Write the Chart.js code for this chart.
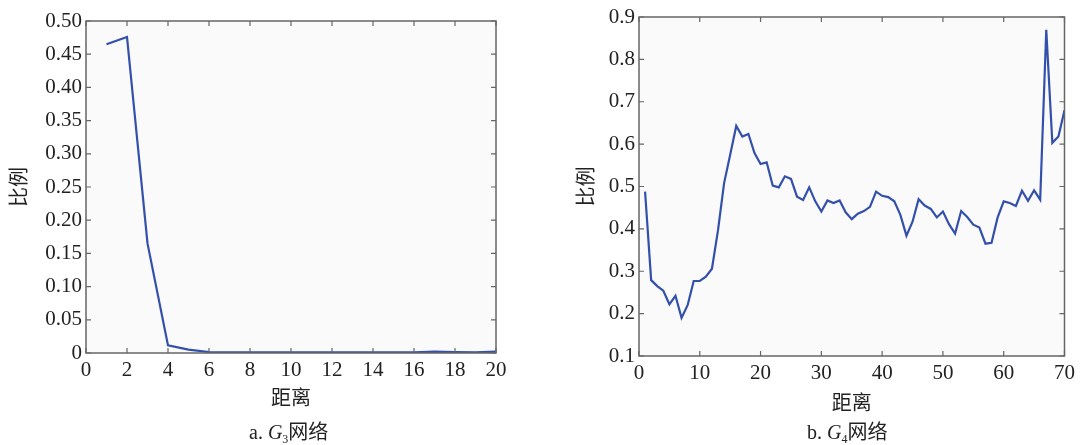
<!DOCTYPE html>
<html>
<head>
<meta charset="utf-8">
<script src="https://cdn.jsdelivr.net/npm/chart.js@4/dist/chart.umd.min.js"></script>
<style>
    body { margin: 0; background: #fff; }
    #wrap { position: relative; width: 1080px; height: 445px; }
    .box { position: absolute; top: 0; width: 540px; height: 445px; }
    .cap { position: absolute; top: 416px; font: 20px "Liberation Serif", "Noto Sans CJK SC"; color: #222; white-space: nowrap; }
    .cap sub { font-size: 12px; vertical-align: -4px; line-height: 0; }
</style>
</head>
<body>
<div id="wrap">
    <div class="box" style="left:0"><canvas id="chartA"></canvas></div>
    <div class="box" style="left:540px"><canvas id="chartB"></canvas></div>
    <div class="cap" style="left:249px">a. <i>G</i><sub>3</sub>网络</div>
    <div class="cap" style="left:807px">b. <i>G</i><sub>4</sub>网络</div>
</div>
<script>
// G3 network: distance 1..20
var g3Distance = [1, 2, 3, 4, 5, 6, 7, 8, 9, 10, 11, 12, 13, 14, 15, 16, 17, 18, 19, 20];
var g3Ratio = [0.465, 0.476, 0.165, 0.0115, 0.005, 0.0015, 0.0008, 0.0008, 0.0008, 0.0008,
               0.0008, 0.0008, 0.0008, 0.0008, 0.0008, 0.0008, 0.002, 0.0012, 0.0008, 0.002];
var g3XTicks = [0, 2, 4, 6, 8, 10, 12, 14, 16, 18, 20];
var g3YTicks = [0, 0.05, 0.10, 0.15, 0.20, 0.25, 0.30, 0.35, 0.40, 0.45, 0.50];
var g3YLabels = ['0', '0.05', '0.10', '0.15', '0.20', '0.25', '0.30', '0.35', '0.40', '0.45', '0.50'];

// G4 network: distance 1..70
var g4Distance = [];
for (var i = 1; i <= 70; i++) g4Distance.push(i);
var g4Ratio = [
    0.488, 0.279, 0.265, 0.254, 0.222, 0.242, 0.190, 0.220, 0.277, 0.277,
    0.287, 0.306, 0.397, 0.508, 0.575, 0.643, 0.618, 0.624, 0.579, 0.553,
    0.557, 0.502, 0.498, 0.524, 0.518, 0.476, 0.468, 0.498, 0.465, 0.441,
    0.467, 0.461, 0.467, 0.439, 0.423, 0.436, 0.442, 0.452, 0.488, 0.478,
    0.475, 0.465, 0.433, 0.384, 0.417, 0.470, 0.455, 0.447, 0.427, 0.441,
    0.411, 0.389, 0.442, 0.428, 0.410, 0.403, 0.365, 0.367, 0.427, 0.465,
    0.461, 0.454, 0.490, 0.466, 0.491, 0.469, 0.870, 0.603, 0.618, 0.680
];
var g4XTicks = [0, 10, 20, 30, 40, 50, 60, 70];
var g4YTicks = [0.1, 0.2, 0.3, 0.4, 0.5, 0.6, 0.7, 0.8, 0.9];
var g4YLabels = ['0.1', '0.2', '0.3', '0.4', '0.5', '0.6', '0.7', '0.8', '0.9'];

var serif = '"Liberation Serif", "Noto Sans CJK SC", serif';
var lineColor = '#3350aa';
var frameColor = '#666';

// matlab-like frame: light plot bg, box, ticks pointing inward on all sides
var framePlugin = {
    id: 'frame',
    beforeDraw: function(chart) {
        var a = chart.chartArea, c = chart.ctx;
        c.save();
        c.fillStyle = '#fafafa';
        c.fillRect(a.left, a.top, a.right - a.left, a.bottom - a.top);
        c.restore();
    },
    afterDraw: function(chart) {
        var a = chart.chartArea, c = chart.ctx;
        var xs = chart.scales.x, ys = chart.scales.y;
        var len = 5;
        c.save();
        c.strokeStyle = frameColor;
        c.lineWidth = 1.5;
        c.strokeRect(a.left, a.top, a.right - a.left, a.bottom - a.top);
        c.lineWidth = 1.2;
        c.beginPath();
        xs.ticks.forEach(function(t) {
            var px = xs.getPixelForValue(t.value);
            c.moveTo(px, a.bottom); c.lineTo(px, a.bottom - len);
            c.moveTo(px, a.top); c.lineTo(px, a.top + len);
        });
        ys.ticks.forEach(function(t) {
            var py = ys.getPixelForValue(t.value);
            c.moveTo(a.left, py); c.lineTo(a.left + len, py);
            c.moveTo(a.right, py); c.lineTo(a.right - len, py);
        });
        c.stroke();
        c.restore();
    }
};

function makeChart(id, xs, ys, cfg) {
    var points = xs.map(function(x, i) { return { x: x, y: ys[i] }; });
    return new Chart(document.getElementById(id), {
        type: 'line',
        data: {
            datasets: [{
                data: points,
                borderColor: lineColor,
                borderWidth: 2.2,
                pointRadius: 0,
                tension: 0,
                fill: false
            }]
        },
        options: {
            responsive: true,
            maintainAspectRatio: false,
            animation: false,
            layout: { padding: { top: cfg.top, right: cfg.right, left: 0, bottom: 0 } },
            plugins: { legend: { display: false }, tooltip: { enabled: false } },
            scales: {
                x: {
                    type: 'linear',
                    min: cfg.xTicks[0],
                    max: cfg.xTicks[cfg.xTicks.length - 1],
                    grid: { display: false, drawTicks: false },
                    border: { display: false },
                    afterBuildTicks: function(s) { s.ticks = cfg.xTicks.map(function(v) { return { value: v }; }); },
                    afterFit: function(s) { s.height = cfg.xHeight; },
                    ticks: {
                        padding: 5,
                        maxRotation: 0,
                        color: '#222',
                        font: { family: serif, size: 21 },
                        callback: function(v) { return String(v); }
                    },
                    title: {
                        display: true,
                        text: '距离',
                        color: '#222',
                        font: { family: serif, size: 20 },
                        padding: { top: 0, bottom: cfg.xTitlePad }
                    }
                },
                y: {
                    type: 'linear',
                    min: cfg.yTicks[0],
                    max: cfg.yTicks[cfg.yTicks.length - 1],
                    grid: { display: false, drawTicks: false },
                    border: { display: false },
                    afterBuildTicks: function(s) { s.ticks = cfg.yTicks.map(function(v) { return { value: v }; }); },
                    afterFit: function(s) { s.width = cfg.yWidth; },
                    ticks: {
                        padding: 4,
                        color: '#222',
                        font: { family: serif, size: 21 },
                        callback: function(v, i) { return cfg.yLabels[i]; }
                    },
                    title: {
                        display: true,
                        text: '比例',
                        color: '#222',
                        font: { family: serif, size: 20 },
                        padding: { top: cfg.yTitlePad, bottom: 0 }
                    }
                }
            }
        },
        plugins: [framePlugin]
    });
}

document.addEventListener('DOMContentLoaded', function() {
    makeChart('chartA', g3Distance, g3Ratio, {
        xTicks: g3XTicks, yTicks: g3YTicks, yLabels: g3YLabels,
        top: 21, right: 44, yWidth: 86, xHeight: 92, xTitlePad: 33, yTitlePad: 9
    });
    makeChart('chartB', g4Distance, g4Ratio, {
        xTicks: g4XTicks, yTicks: g4YTicks, yLabels: g4YLabels,
        top: 17, right: 13, yWidth: 99, xHeight: 89, xTitlePad: 28, yTitlePad: 36
    });
});
</script>
</body>
</html>
